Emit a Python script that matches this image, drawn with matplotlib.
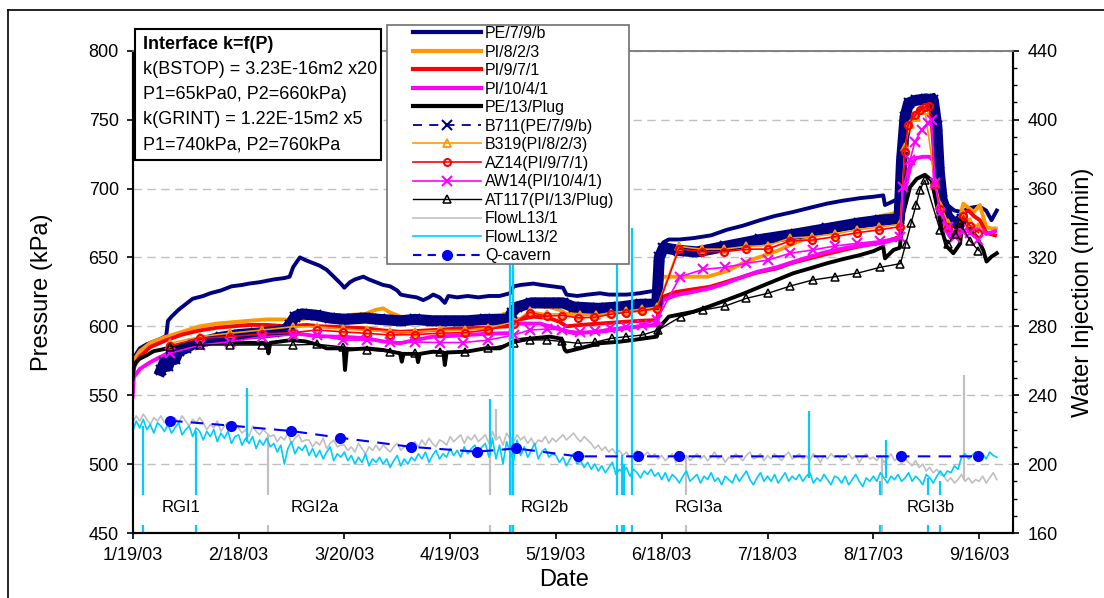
import datetime as dt
import numpy as np
import matplotlib
matplotlib.use("Agg")
import matplotlib.pyplot as plt
import matplotlib.dates as mdates
from matplotlib.lines import Line2D
from matplotlib.patches import Rectangle
from matplotlib.ticker import MultipleLocator

plt.rcParams['font.family'] = ['Liberation Sans', 'DejaVu Sans']

# ---- data: (days since 1/19/03, value) ----
pe79b = [(0, 572), (1, 580), (2, 584), (4, 587), (6, 589), (8, 591), (9.5, 593), (10, 604), (11, 607),
         (13, 612), (15, 616), (17, 620), (20, 622), (22, 624), (25, 626), (28, 629), (31, 630), (33, 631),
         (36, 632), (40, 634), (43, 635), (44.5, 636), (45.5, 643), (47.4, 650), (49, 648), (51, 646),
         (53, 644), (55, 641), (57, 636), (59, 631), (60, 628), (61.6, 632), (63, 634), (65.4, 636),
         (67, 634), (69, 632), (71, 630), (73, 629), (75, 626), (76, 623), (78, 622), (80.5, 621),
         (82.4, 619), (84, 621), (85.2, 623), (87, 621), (88.5, 617), (89.5, 622), (92, 621), (95, 622),
         (98, 621), (101, 622), (104, 622), (107, 624), (108, 629), (110, 630), (113.6, 631), (116, 630),
         (119, 629), (122, 628), (123, 623), (126, 622), (129, 623), (132.5, 624), (135, 623), (137, 623),
         (140, 623), (143.8, 624), (146, 625), (148.6, 626), (149.3, 656), (150.5, 661), (152, 663),
         (155, 663), (159, 664), (164, 666), (168.4, 670), (173, 673), (177.9, 677), (182, 680),
         (187.3, 683), (192, 686), (196.8, 689), (201, 691), (206.2, 693), (210, 694), (212.8, 695),
         (213.3, 688), (215, 690), (216.6, 692), (217.5, 706), (218.2, 735), (219, 755), (220, 762),
         (222, 765), (224, 766), (226, 767), (227.2, 768), (227.8, 740), (228.5, 710), (229.5, 695),
         (231, 688), (233, 684), (235, 683), (237.5, 686), (240, 687), (242, 684), (243.5, 677), (245, 684)]

pi823 = [(0, 568), (0.5, 576), (2, 582), (5, 588), (9, 592), (14, 596), (19, 600), (24, 602), (28.5, 603),
         (33, 604), (38, 605), (43, 605), (45, 604), (50, 606), (55, 607), (60, 608), (66, 609), (69, 612),
         (71, 613), (73, 610), (76, 607), (80, 606), (85, 606), (90, 606), (95, 606), (100, 607), (104, 608),
         (107, 610), (108, 615), (113, 615), (118, 614), (121, 612), (123, 609), (128, 609), (132.5, 609),
         (138, 611), (144, 612), (148.6, 614), (149.3, 630), (150.5, 636), (155, 636), (163, 636),
         (168.4, 640), (174, 647), (178, 650.5), (183, 655), (187.3, 660), (192, 665), (196.8, 670),
         (202, 674), (206.2, 677), (212, 680), (215.7, 682), (217.5, 683), (218.3, 700), (219, 728),
         (219.8, 745), (221, 752), (223, 756), (225, 758), (226.7, 759), (227.4, 725), (228.2, 700),
         (229.3, 684), (231, 670), (232.5, 664), (234, 673), (235.5, 689), (237, 686), (238.5, 683),
         (240.2, 688), (242, 672), (243.5, 671), (244.7, 671)]

pi971 = [(0, 565), (0.5, 571), (2, 578), (5, 585), (9.6, 590), (14, 594), (19, 597), (24, 599), (28.5, 600),
         (33, 601), (38, 601), (44, 600), (49.3, 601), (53, 600), (56.9, 599.7), (62, 599), (66.3, 598.5),
         (71, 597), (75.8, 596), (80, 596.5), (85.2, 597.3), (90, 598), (94.7, 598.5), (100, 599),
         (104.1, 599.7), (107, 600), (108.9, 604.6), (113.6, 607), (118, 606), (121, 603.3), (123, 600),
         (127, 601), (132.5, 602), (138, 603), (144, 604), (148.6, 604.5), (149.5, 615), (150.4, 621.5),
         (154.2, 625), (158, 626.5), (163.7, 628.7), (168, 632), (173.1, 636), (177, 639), (182.6, 642),
         (187, 646), (192, 649.3), (196, 652), (201.5, 655.4), (206, 658), (211, 660.2), (214, 662),
         (217.6, 665), (218.5, 700), (219.5, 735), (220.5, 748), (222, 755), (224, 758), (226.5, 760),
         (227.3, 735), (228, 705), (229.5, 685), (231, 672), (233, 665), (234.5, 670), (235.5, 682),
         (237, 684), (238.5, 680), (240.2, 677), (242, 668), (244.5, 666)]

pi1041 = [(0, 549), (0.3, 563), (2, 569), (5, 574), (9.6, 580), (12.5, 584), (16, 587), (22, 591),
          (28.5, 593.7), (35, 595), (42.5, 596), (47.4, 594.4), (52, 593), (56.9, 592.5), (62, 592),
          (66.3, 591.3), (71, 589), (75.8, 587.7), (80, 590), (85.2, 592.5), (90, 593), (94.7, 593.7),
          (100, 594.5), (104.1, 594.9), (107, 595), (108.4, 602), (113.6, 602), (115.5, 602), (121, 598),
          (125, 595), (132.5, 596), (138, 598), (144, 600), (148.6, 601), (149.5, 612), (150.4, 619),
          (154.2, 622.7), (158, 624.5), (163.7, 627.6), (168, 631), (173.1, 636), (177, 639.5),
          (182.6, 642.8), (187, 646.5), (192, 650.5), (196, 653.5), (201.5, 656.6), (206, 658.5),
          (211, 660.2), (214, 661.5), (217.6, 663.8), (218.5, 690), (219.5, 705), (220.5, 716), (222, 722),
          (224, 723), (226, 723), (227, 720), (227.6, 700), (228.5, 685), (230, 672), (232, 664), (234, 668),
          (235.5, 675), (237.5, 672), (240, 672), (242, 667), (244.5, 669)]

pe13plug = [(0, 562), (0.3, 571), (1, 574.3), (2, 576.5), (4, 579), (4.9, 580.4), (6, 582), (8, 583),
            (10.6, 584.5), (14, 586), (19, 587.7), (24, 588), (28.5, 588.1), (33, 588), (38, 587.7),
            (38.5, 580.4), (39, 588), (45, 590), (49, 589), (52, 587), (55, 584), (59.8, 584), (60.2, 568.3),
            (60.7, 583), (66.3, 584), (71, 582.8), (75.8, 580.4), (76.3, 574.3), (76.8, 580), (80.5, 580),
            (80.9, 574), (81.4, 580), (85.2, 581.6), (88.1, 581), (88.5, 571.9), (89, 581), (94.7, 581.6),
            (100, 584), (104.1, 584), (107, 587.7), (108.9, 590), (113.6, 591.3), (118.3, 592.5),
            (121.5, 591), (122.5, 583), (123, 581.6), (126.8, 584), (132.5, 587.7), (138, 588.8),
            (142, 590.1), (148.6, 592.5), (149.5, 599.7), (152, 607), (159, 610.6), (163, 614),
            (168.4, 619.1), (173, 623.5), (177.9, 628.7), (182, 633), (187.3, 638.5), (192, 642),
            (196.8, 645.7), (201, 648.5), (206.2, 651.7), (210, 654.5), (212.8, 657.8), (213.3, 649.3),
            (215.7, 655.4), (217.5, 657), (218.5, 682), (220.4, 701), (222.3, 707), (224.6, 710),
            (226.5, 706), (227.9, 689), (229.4, 670), (230.8, 658), (232.7, 653), (234.6, 660), (235.5, 682),
            (237.4, 670), (239.3, 665), (241.2, 655), (242.1, 647), (243.5, 650.5), (245, 653)]

b711 = [(8, 568), (9, 574), (10, 571), (11, 578), (12, 576), (13, 582), (15, 584), (17, 587), (20, 589),
        (25, 592), (30, 594), (35, 595), (40, 596), (43, 597), (44.5, 601), (46, 607), (48, 609), (52, 608),
        (56, 606), (60, 605), (66, 606), (70, 605), (76, 604), (80, 605), (85, 604), (90, 604), (95, 604),
        (100, 605), (106.5, 605), (107.5, 610), (109, 614), (113, 617), (118, 617), (122, 617), (125, 614),
        (132, 613), (138, 614), (144, 616), (148.6, 616), (149.3, 650), (150.5, 657), (155, 655), (160, 654),
        (168, 658), (178, 663), (188, 667), (197, 671), (206, 675), (212, 677), (217.3, 678), (218, 720),
        (219, 752), (220, 762), (222, 764), (225, 765), (227, 764), (228, 745), (228.7, 712), (229.5, 692),
        (231, 680), (233, 674), (235, 678)]

b319 = [(10.6, 587.7), (19, 592.5), (27.6, 595), (36.6, 597.3), (45.4, 599.7), (52.2, 599.7), (59.7, 598),
        (66.3, 597), (73, 596), (80, 596), (87, 597), (94.2, 597), (100.8, 599), (108, 603), (112.6, 611),
        (117.4, 609), (121.6, 609), (126.8, 608), (131.5, 608), (135.5, 610), (140, 611), (144.3, 612.5),
        (148.7, 614), (154.9, 658), (161.3, 656), (167.7, 656), (174, 658), (180, 658.5), (186.4, 664),
        (192.7, 665), (199.1, 667), (205.4, 670), (211.7, 672), (217.6, 674), (219, 730), (220.3, 747),
        (222, 752), (224.6, 757), (227.5, 705), (229, 688), (231.2, 675), (233.6, 668), (235.5, 682),
        (237.4, 676), (239.8, 672)]

az14 = [(10.6, 586), (19, 591.3), (27.6, 592.5), (36.6, 594.4), (45.4, 595.4), (52.2, 597.3), (59.7, 596),
        (66.3, 594.9), (73, 593.7), (80, 594), (87, 595), (94.2, 595.4), (100.8, 597.3), (108, 602),
        (112.6, 610), (117.4, 607.5), (121.8, 607.8), (126.4, 606.2), (130.8, 606.5), (135.5, 608.7),
        (140, 610), (144.3, 611.2), (148.7, 612.8), (154.9, 656.1), (161.3, 654.2), (167.7, 654.2),
        (174, 655.9), (180, 656.1), (186.4, 662), (192.7, 662.6), (199.1, 665), (205.4, 667.9), (211.7, 670),
        (217.6, 672.3), (219, 726.7), (219.8, 746), (221.8, 753), (223.2, 757), (224.6, 759), (225.9, 760),
        (227.5, 702.5), (229, 685), (231.2, 672), (233.6, 667), (235.5, 680), (237.4, 673), (239.8, 668)]

aw14 = [(10.6, 580.4), (19, 586.4), (27.6, 588.8), (36.6, 592.5), (45.4, 593.7), (52.2, 593.7), (59.7, 590),
        (66.3, 590), (73, 588.8), (80, 588.6), (87, 588.2), (93.6, 588.2), (100.8, 590), (108, 593.7),
        (112.6, 597.3), (117.4, 598), (121.6, 597.5), (126.8, 596), (131, 596.5), (135.3, 598.5),
        (140, 599.7), (144.3, 601), (148.6, 604.6), (155.2, 636), (161.8, 641.3), (168, 642.8), (174, 645.7),
        (180.2, 648.1), (186.4, 653), (192.8, 655.4), (199.1, 658.3), (205.4, 660.2), (211.9, 662),
        (217.6, 665), (218.5, 701), (220.4, 720.7), (221.8, 734), (223.7, 742.5), (225.6, 747.3),
        (226.5, 749.7), (227.5, 703.8), (228.9, 682), (231.2, 672), (233.1, 665), (235.5, 668.6),
        (237.4, 668), (239.8, 662.6)]

at117 = [(10.6, 585.2), (19, 586.4), (27.6, 586.4), (36.6, 586.4), (45.4, 586.4), (52.2, 587), (59.7, 585),
         (66.3, 582.8), (73, 581.5), (80, 580.4), (87, 581), (94.2, 581.6), (100.8, 584), (108, 587.7),
         (112.6, 590.1), (117.4, 590.1), (121.6, 589), (126.3, 587.7), (131, 588.4), (135.8, 591.3),
         (140, 592.5), (144.6, 593.7), (149, 597.3), (155.4, 607), (161.8, 611.8), (168, 614.7), (174, 620.3),
         (180.2, 624), (186.4, 629.2), (192.8, 633.6), (199.1, 636), (205.4, 638.5), (211.9, 642.8),
         (217.7, 645.5), (219.2, 660), (220.7, 674.7), (222.1, 688), (223.2, 699), (224.6, 706),
         (228.9, 670), (231.2, 660), (233.1, 667), (234.6, 675), (237.4, 662), (239.8, 655)]

# water injection, one reading per day from 1/19/03
flow_days = list(range(246))
flow_l13_2 = [219, 225, 221, 226, 220, 223, 218, 224, 222, 219,
              223, 218, 221, 224, 217, 220, 222, 216, 221, 219,
              214, 219, 216, 220, 213, 218, 215, 219, 212, 216,
              217, 211, 215, 212, 216, 209, 214, 211, 215, 210,
              212, 207, 211, 200, 209, 213, 206, 210, 208, 211,
              205, 209, 204, 208, 203, 207, 210, 202, 206, 204,
              207, 202, 205, 200, 204, 201, 206, 199, 203, 201,
              204, 200, 203, 198, 202, 205, 199, 203, 200, 204,
              202, 206, 203, 207, 201, 205, 208, 203, 206, 204,
              209, 205, 208, 204, 210, 206, 209, 211, 207, 210,
              212, 204, 215, 203, 211, 200, 213, 207, 202, 214,
              205, 210, 204, 208, 212, 203, 207, 209, 204, 206,
              205, 201, 204, 199, 203, 206, 200, 202, 198, 201,
              197, 200, 196, 199, 195, 198, 201, 194, 197, 195,
              198, 193, 197, 195, 192, 196, 194, 197, 193, 195,
              191, 195, 190, 194, 192, 189, 193, 196, 190, 192,
              194, 189, 193, 191, 195, 190, 192, 188, 193, 191,
              189, 194, 190, 193, 196, 191, 188, 192, 195, 190,
              193, 190, 194, 189, 192, 195, 190, 193, 191, 194,
              190, 193, 195, 189, 192, 190, 194, 191, 188, 193,
              192, 189, 193, 188, 191, 194, 190, 187, 192, 190,
              193, 190, 195, 192, 189, 193, 191, 194, 190, 192,
              195, 190, 193, 191, 188, 194, 192, 189, 193, 196,
              193, 196, 195, 199, 197, 204, 206, 203, 205, 207,
              204, 206, 203, 207, 205, 204]
flow_l13_1 = [224, 228, 225, 229, 226, 223, 227, 225, 228, 224,
              226, 223, 227, 224, 228, 225, 222, 226, 224, 227,
              224, 220, 223, 221, 225, 219, 222, 224, 220, 223,
              221, 218, 220, 216, 222, 219, 217, 220, 218, 216,
              217, 213, 216, 214, 218, 212, 215, 217, 213, 214,
              214, 210, 213, 211, 215, 209, 212, 214, 210, 211,
              211, 208, 210, 207, 212, 209, 206, 210, 208, 211,
              208, 211, 209, 207, 210, 212, 208, 210, 211, 209,
              213, 210, 214, 211, 215, 212, 210, 214, 213, 211,
              216, 213, 215, 217, 212, 216, 214, 217, 213, 215,
              217, 212, 219, 214, 216, 211, 218, 215, 213, 217,
              214, 216, 212, 215, 211, 214, 213, 216, 212, 215,
              213, 215, 217, 214, 216, 218, 215, 213, 216, 214,
              212, 209, 211, 208, 210, 207, 209, 206, 208, 205,
              207, 204, 206, 208, 203, 205, 207, 204, 206, 203,
              205, 202, 204, 206, 201, 204, 203, 205, 202, 204,
              206, 203, 205, 202, 204, 207, 203, 205, 201, 204,
              203, 206, 204, 202, 205, 207, 203, 204, 206, 202,
              205, 203, 206, 204, 202, 205, 207, 203, 204, 206,
              203, 205, 202, 206, 204, 201, 205, 203, 206, 204,
              205, 202, 204, 206, 203, 205, 201, 204, 206, 203,
              204, 202, 205, 201, 203, 206, 202, 204, 200, 203,
              201, 199, 202, 198, 200, 196, 198, 195, 197, 194,
              193, 190, 192, 189, 191, 194, 190, 192, 189, 191,
              190, 193, 189, 192, 195, 191]

# short spikes in the flow records: day, low, high (ml/min)
l13_2_spike_days = [3, 18, 32.3, 101.3, 107.0, 107.9, 137.2, 138.6, 139.4, 141.5, 191.8, 212.0, 213.7, 225.6, 229.0]
l13_2_spike_low = [100, 100, 213, 205, 100, 100, 100, 100, 100, 100, 192, 100, 192, 100, 100]
l13_2_spike_high = [222, 219, 244, 238, 350, 350, 345, 205, 200, 337, 231, 190, 214, 192, 190]
l13_1_spike_days = [38.3, 101.3, 103.0, 107.3, 107.7, 157.0, 212.5, 235.7]
l13_1_spike_low = [100, 100, 215, 100, 100, 100, 100, 191]
l13_1_spike_high = [217, 215, 232, 216, 216, 204, 203, 252]

qcav_days = [10.6, 28, 45, 58.8, 79, 97.5, 108.7, 126.2, 143.3, 155, 217.8, 239.8]
qcav_flow = [225.2, 222.3, 219.2, 215.3, 210, 207.2, 209.1, 204.5, 204.5, 204.5, 204.5, 204.5]

phase_labels = ['RGI1', 'RGI2a', 'RGI2b', 'RGI3a', 'RGI3b']
phase_days = [13.8, 51.5, 116.9, 160.4, 226.2]

tick_dates = ['2003-01-19', '2003-02-18', '2003-03-20', '2003-04-19', '2003-05-19',
              '2003-06-18', '2003-07-18', '2003-08-17', '2003-09-16']
tick_labels = ['1/19/03', '2/18/03', '3/20/03', '4/19/03', '5/19/03',
               '6/18/03', '7/18/03', '8/17/03', '9/16/03']

info_lines = ['Interface k=f(P)', 'k(BSTOP) = 3.23E-16m2 x20', 'P1=65kPa0, P2=660kPa)',
              'k(GRINT) = 1.22E-15m2 x5', 'P1=740kPa, P2=760kPa']

# ---- figure ----
W, H = 1104, 598
t0 = mdates.date2num(dt.datetime(2003, 1, 19))


def to_xy(pairs):
    d, v = zip(*pairs)
    return t0 + np.array(d), np.array(v)


NAVY, ORANGE, RED, MAGENTA = '#000080', '#FF9900', '#FF0000', '#FF00FF'
GRAY, CYAN, BLUE = '#C0C0C0', '#00CCFF', '#0000FF'

fig = plt.figure(figsize=(W / 100, H / 100), dpi=100)
ax = fig.add_axes([132.7 / W, 1 - 533 / H, (1013 - 132.7) / W, (533 - 50.7) / H])
ax2 = ax.twinx()

thick = dict(lw=2.8, solid_joinstyle='round')
for pairs, col in [(pe79b, NAVY), (pi823, ORANGE), (pi971, RED), (pi1041, MAGENTA), (pe13plug, 'black')]:
    x, y = to_xy(pairs)
    ax.plot(x, y, color=col, **thick)

x, y = to_xy(b711)
ax.plot(x, y, color=NAVY, lw=8, solid_joinstyle='round', marker='x', ms=7, mew=1.5)
x, y = to_xy(b319)
ax.plot(x, y, color=ORANGE, lw=1.2, marker='^', ms=6, mfc='none', mew=1.3)
x, y = to_xy(az14)
ax.plot(x, y, color=RED, lw=1.2, marker='o', ms=5, mfc='none', mew=1.6)
x, y = to_xy(aw14)
ax.plot(x, y, color=MAGENTA, lw=1.2, marker='x', ms=7, mew=1.5)
x, y = to_xy(at117)
ax.plot(x, y, color='black', lw=1.0, marker='^', ms=6, mfc='none', mew=1.1)

fx = t0 + np.array(flow_days)
ax2.plot(fx, flow_l13_1, color=GRAY, lw=1.2)
ax2.vlines(t0 + np.array(l13_1_spike_days), l13_1_spike_low, l13_1_spike_high, color=GRAY, lw=1.6)
ax2.plot(fx, flow_l13_2, color=CYAN, lw=1.2)
ax2.vlines(t0 + np.array(l13_2_spike_days), l13_2_spike_low, l13_2_spike_high, color=CYAN, lw=1.6)
ax2.plot(t0 + np.array(qcav_days), qcav_flow, color=BLUE, lw=1.5, ls=(0, (6, 4)),
         marker='o', ms=7, zorder=2.3)

# white strip behind the phase labels
ax2.axhspan(164.6, 182, color='white', lw=0, zorder=2.4)
for lab, d in zip(phase_labels, phase_days):
    ax2.text(t0 + d, 175, lab, fontsize=12, ha='center', va='center', zorder=3)

# axes styling
ax.set_xlim(t0, t0 + 249.6)
ax.set_ylim(450, 800)
ax2.set_ylim(160, 440)
ax.set_yticks(np.arange(450, 801, 50))
ax2.set_yticks(np.arange(160, 441, 40))
ax2.yaxis.set_minor_locator(MultipleLocator(10))
ax.set_xticks([mdates.datestr2num(s) for s in tick_dates])
ax.set_xticklabels(tick_labels)
for a in (ax, ax2):
    for s in ('left', 'right', 'bottom'):
        a.spines[s].set_color('black')
        a.spines[s].set_linewidth(1.5)
    a.spines['top'].set_color('#808080')
    a.spines['top'].set_linewidth(1.2)
ax.tick_params(axis='both', direction='out', length=4, width=1.2, labelsize=13, pad=6)
ax2.tick_params(axis='y', which='major', direction='out', length=4.5, width=1.2, labelsize=13, pad=6)
ax2.tick_params(axis='y', which='minor', direction='out', length=3, width=1.0)
ax.grid(axis='y', color='#C0C0C0', ls=(0, (6, 4)), lw=1.0)
ax.set_axisbelow(True)

ax.set_ylabel('Pressure (kPa)', fontsize=17)
ax.yaxis.set_label_coords(-0.091, 0.5)
ax2.set_ylabel('Water Injection (ml/min)', fontsize=17)
ax2.yaxis.set_label_coords(1.067, 0.5)
ax.set_xlabel('Date', fontsize=17)
ax.xaxis.set_label_coords(0.49, -0.075)

# info box
fig.patches.append(Rectangle((135 / W, 1 - 160 / H), 246 / W, 131 / H, transform=fig.transFigure,
                             fc='white', ec='black', lw=1.5, zorder=4))
line_y = [44.3, 69.3, 94.3, 119.3, 144.5]
for i, (txt, yy) in enumerate(zip(info_lines, line_y)):
    fig.text(142.7 / W, 1 - yy / H, txt, fontsize=13, va='center', ha='left',
             weight='bold' if i == 0 else 'normal', zorder=5)

# legend
fig.patches.append(Rectangle((387 / W, 1 - 264 / H), 242 / W, 239 / H, transform=fig.transFigure,
                             fc='white', ec='#707070', lw=1.2, zorder=4))
handles = [
    Line2D([], [], color=NAVY, lw=3),
    Line2D([], [], color=ORANGE, lw=3),
    Line2D([], [], color=RED, lw=3),
    Line2D([], [], color=MAGENTA, lw=3),
    Line2D([], [], color='black', lw=3),
    Line2D([], [], color=NAVY, lw=1.3, ls=(0, (5, 4)), marker='x', ms=7, mew=1.5),
    Line2D([], [], color=ORANGE, lw=1.2, marker='^', ms=6, mfc='none', mew=1.3),
    Line2D([], [], color=RED, lw=1.2, marker='o', ms=5, mfc='none', mew=1.5),
    Line2D([], [], color=MAGENTA, lw=1.2, marker='x', ms=7, mew=1.5),
    Line2D([], [], color='black', lw=1.0, marker='^', ms=6, mfc='none', mew=1.1),
    Line2D([], [], color=GRAY, lw=1.2),
    Line2D([], [], color=CYAN, lw=1.2),
    Line2D([], [], color=BLUE, lw=1.5, ls=(0, (4, 3)), marker='o', ms=7),
]
labels = ['PE/7/9/b', 'PI/8/2/3', 'PI/9/7/1', 'PI/10/4/1', 'PE/13/Plug', 'B711(PE/7/9/b)',
          'B319(PI/8/2/3)', 'AZ14(PI/9/7/1)', 'AW14(PI/10/4/1)', 'AT117(PI/13/Plug)',
          'FlowL13/1', 'FlowL13/2', 'Q-cavern']
leg = fig.legend(handles, labels, loc='upper left', bbox_to_anchor=(413 / W, 1 - 26 / H),
                 frameon=False, fontsize=11.5, handlelength=4.26, handletextpad=0.25,
                 labelspacing=0.22, borderpad=0, borderaxespad=0)
leg.set_zorder(5)

# outer chart frame
fig.add_artist(Line2D([7.5 / W, 7.5 / W], [0, 1 - 10 / H], transform=fig.transFigure, color='black', lw=1.2))
fig.add_artist(Line2D([7.5 / W, 1], [1 - 10 / H, 1 - 10 / H], transform=fig.transFigure, color='black', lw=1.2))

fig.savefig('out.png', dpi=100)
